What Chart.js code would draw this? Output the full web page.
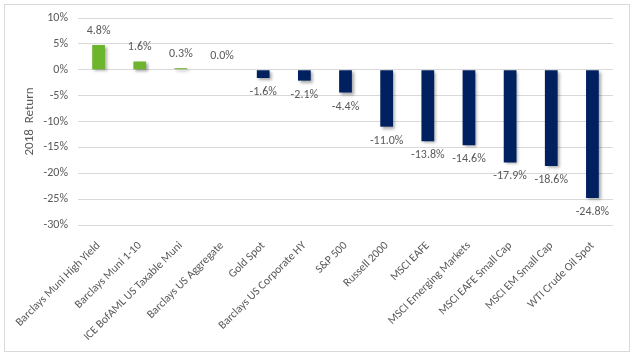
<!DOCTYPE html>
<html>
<head>
<meta charset="utf-8">
<script src="https://cdn.jsdelivr.net/npm/chart.js@4"></script>
<style>
html,body{margin:0;padding:0;background:#fff;}
#wrap{width:634px;height:356px;position:relative;}
</style>
</head>
<body>
<div id="wrap"><canvas id="c" width="634" height="356"></canvas></div>
<script>
const categories = [
  "Barclays Muni High Yield","Barclays Muni 1-10","ICE BofAML US Taxable Muni",
  "Barclays US Aggregate","Gold Spot","Barclays US Corporate HY","S&P 500",
  "Russell 2000","MSCI EAFE","MSCI Emerging Markets","MSCI EAFE Small Cap",
  "MSCI EM Small Cap","WTI Crude Oil Spot"
];
const returns2018 = [4.8, 1.6, 0.3, 0.0, -1.6, -2.1, -4.4, -11.0, -13.8, -14.6, -17.9, -18.6, -24.8];
const yTicks = [-30, -25, -20, -15, -10, -5, 0, 5, 10];

const GREEN = '#6CB52D', NAVY = '#002060', TEXT = '#595959';
const FONT = "'Carlito','Liberation Sans',Arial,sans-serif";

const frame = {
  id: 'frame',
  beforeDraw(chart) {
    const ctx = chart.ctx;
    ctx.save();
    ctx.fillStyle = '#fff';
    ctx.fillRect(0, 0, chart.width, chart.height);
    ctx.strokeStyle = '#D9D9D9';
    ctx.lineWidth = 1;
    ctx.strokeRect(4.5, 4.5, 625, 347);
    ctx.restore();
  }
};
const shadow = {
  id: 'shadow',
  beforeDatasetsDraw(chart) {
    const ctx = chart.ctx;
    ctx.save();
    ctx.shadowColor = 'rgba(0,0,0,0.35)';
    ctx.shadowBlur = 3;
    ctx.shadowOffsetX = 2;
    ctx.shadowOffsetY = 2;
  },
  afterDatasetsDraw(chart) {
    chart.ctx.restore();
  }
};
const labels = {
  id: 'valueLabels',
  afterDatasetsDraw(chart) {
    const ctx = chart.ctx;
    const meta = chart.getDatasetMeta(0);
    ctx.save();
    ctx.font = '12px ' + FONT;
    ctx.fillStyle = TEXT;
    ctx.textAlign = 'center';
    ctx.textBaseline = 'middle';
    meta.data.forEach((bar, i) => {
      const v = returns2018[i];
      const y = v >= 0 ? bar.y - 14 : bar.y + 14;
      ctx.fillText(v.toFixed(1) + '%', bar.x, y);
    });
    ctx.restore();
  }
};

new Chart(document.getElementById('c'), {
  type: 'bar',
  data: {
    labels: categories,
    datasets: [{
      data: returns2018,
      backgroundColor: returns2018.map(v => v >= 0 ? GREEN : NAVY),
      barPercentage: 0.31,
      categoryPercentage: 1.0,
      borderWidth: 0
    }]
  },
  options: {
    responsive: false,
    animation: false,
    devicePixelRatio: 1,
    layout: { padding: { left: 0, top: 18, right: 21, bottom: 0 } },
    plugins: { legend: { display: false }, tooltip: { enabled: false } },
    scales: {
      x: {
        grid: { display: false },
        border: { display: false },
        ticks: {
          color: TEXT, font: { family: FONT, size: 11.5 },
          minRotation: 45, maxRotation: 45, autoSkip: false, padding: 6
        },
        afterFit(scale) { scale.height = 131; }
      },
      y: {
        min: -30, max: 10,
        afterBuildTicks(scale) { scale.ticks = yTicks.map(v => ({ value: v })); },
        grid: { color: '#D9D9D9', drawTicks: false },
        border: { display: false },
        ticks: {
          color: TEXT, font: { family: FONT, size: 12 }, padding: 10,
          callback: v => v + '%'
        },
        title: {
          display: true, text: '2018  Return', color: TEXT,
          font: { family: FONT, size: 13 }, padding: { top: 22, bottom: 8 }
        },
        afterFit(scale) { scale.width = 78; scale.paddingTop = 0; scale.paddingBottom = 0; }
      }
    }
  },
  plugins: [frame, shadow, labels]
});
</script>
</body>
</html>
